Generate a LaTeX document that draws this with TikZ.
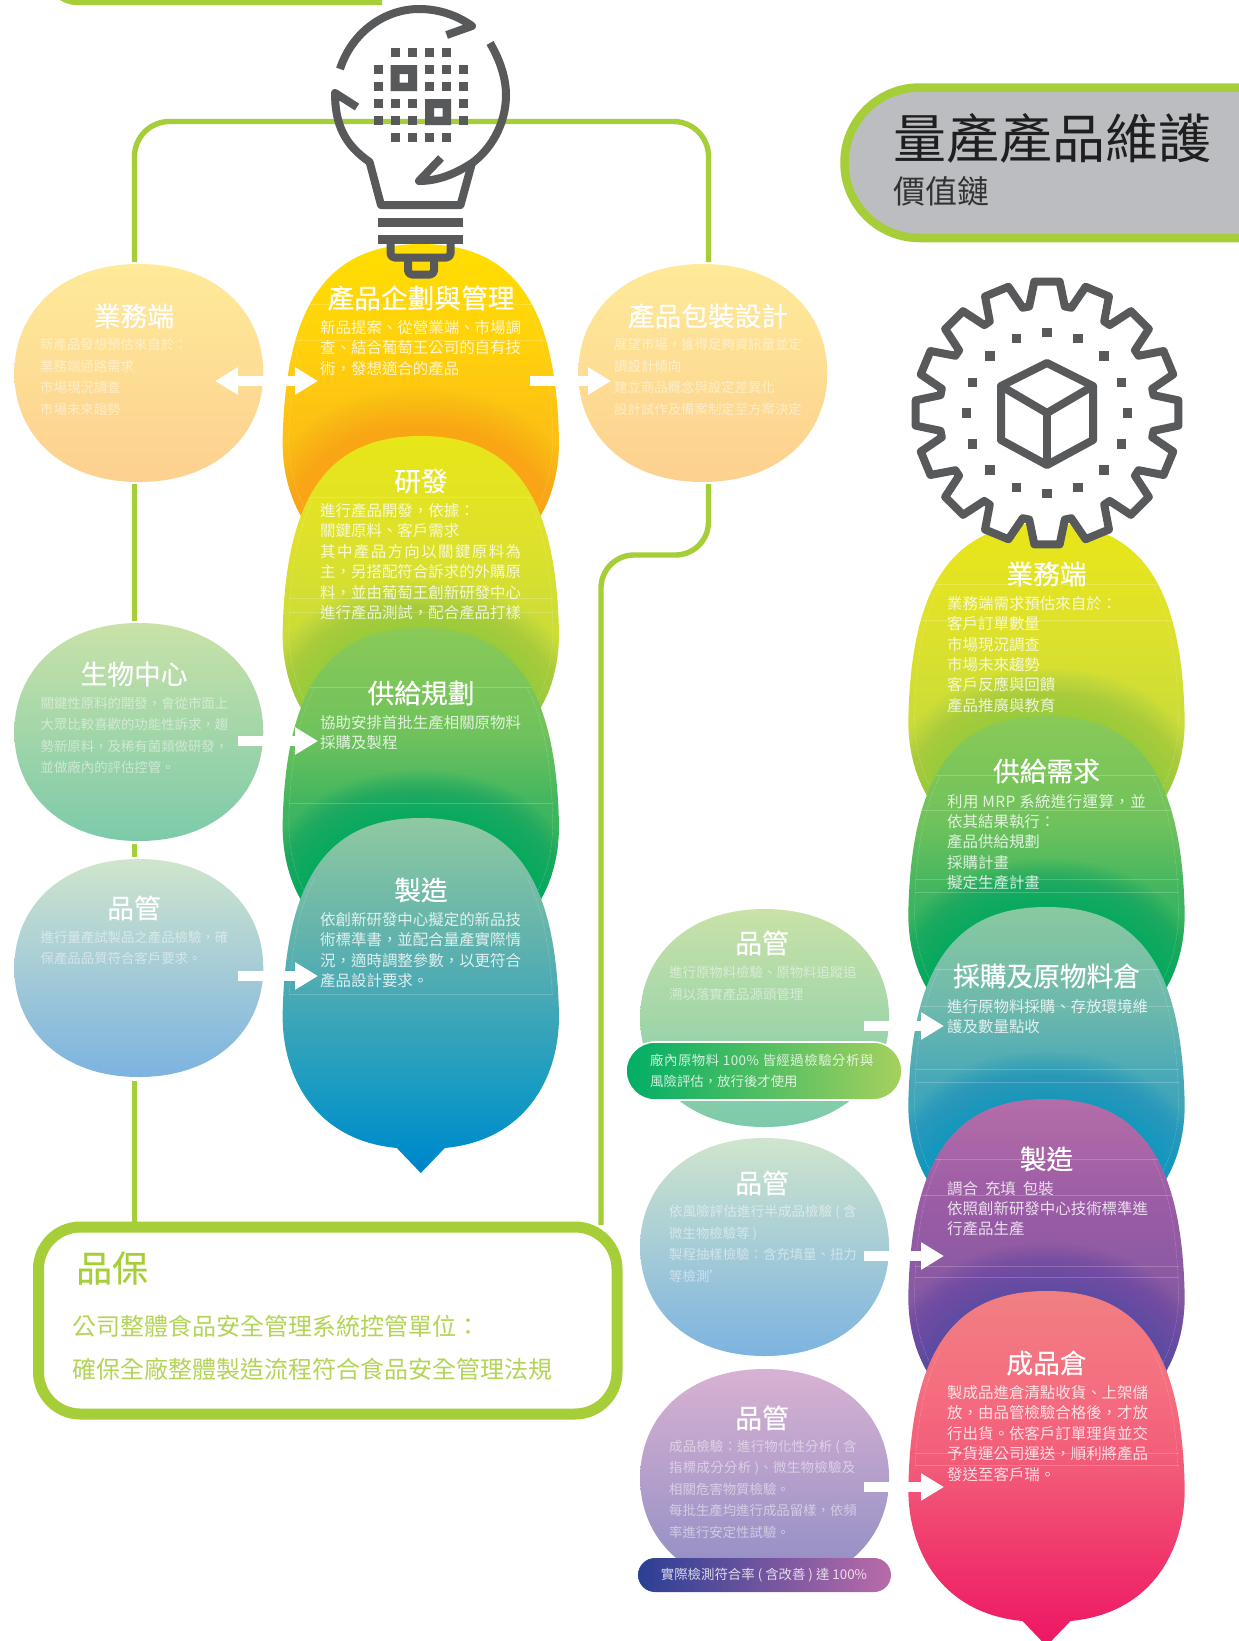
\documentclass[tikz,border=0pt]{standalone}
\usepackage{fontspec}
\usetikzlibrary{arrows.meta}
\setmainfont{Noto Sans CJK TC}
\newfontfamily\headf[FakeBold=0.35]{Noto Sans CJK TC}
\newcommand\lsp[2]{{\addfontfeature{LetterSpace=#1}#2}}
\definecolor{leaf}{HTML}{A6CE39}
\definecolor{ic}{HTML}{58595B}
\definecolor{titlegrey}{HTML}{BBBDC0}
\definecolor{glA}{HTML}{F9A51A}
\definecolor{glB}{HTML}{8ACB5A}
\definecolor{glC}{HTML}{00A960}
\definecolor{glD}{HTML}{1497C8}
\definecolor{glE}{HTML}{5A4BA2}
% vertical shadings: colour(25bp)=bottom of shape, colour(75bp)=top of shape
\pgfdeclareverticalshading{gA}{100bp}{rgb(0bp)=(.984,.71,.09);rgb(25bp)=(.984,.71,.09);rgb(50bp)=(.992,.757,.078);rgb(60bp)=(1,.816,.047);rgb(75bp)=(1,.87,0);rgb(100bp)=(1,.87,0)}
\pgfdeclareverticalshading{gB}{100bp}{rgb(0bp)=(.733,.84,.247);rgb(25bp)=(.733,.84,.247);rgb(50bp)=(.81,.867,.208);rgb(60bp)=(.87,.882,.169);rgb(75bp)=(.91,.902,.094);rgb(100bp)=(.91,.902,.094)}
\pgfdeclareverticalshading{gC}{100bp}{rgb(0bp)=(.11,.70,.353);rgb(25bp)=(.11,.70,.353);rgb(50bp)=(.25,.71,.376);rgb(60bp)=(.435,.76,.36);rgb(75bp)=(.54,.79,.345);rgb(100bp)=(.54,.79,.345)}
\pgfdeclareverticalshading{gD}{100bp}{rgb(0bp)=(0,.50,.784);rgb(25bp)=(0,.50,.784);rgb(28bp)=(0,.55,.796);rgb(37bp)=(.10,.61,.76);rgb(50bp)=(.278,.663,.71);rgb(60bp)=(.404,.71,.67);rgb(75bp)=(.56,.79,.63);rgb(100bp)=(.56,.79,.63)}
\pgfdeclareverticalshading{gE}{100bp}{rgb(0bp)=(.10,.61,.77);rgb(25bp)=(.10,.61,.77);rgb(50bp)=(.27,.655,.725);rgb(60bp)=(.416,.718,.678);rgb(75bp)=(.54,.79,.63);rgb(100bp)=(.54,.79,.63)}
\pgfdeclareverticalshading{gF}{100bp}{rgb(0bp)=(.416,.30,.624);rgb(25bp)=(.416,.30,.624);rgb(50bp)=(.545,.353,.64);rgb(60bp)=(.604,.36,.647);rgb(75bp)=(.71,.427,.659);rgb(100bp)=(.71,.427,.659)}
\pgfdeclareverticalshading{gG}{100bp}{rgb(0bp)=(.93,.082,.40);rgb(25bp)=(.93,.082,.40);rgb(37bp)=(.94,.208,.424);rgb(50bp)=(.949,.353,.47);rgb(62bp)=(.96,.435,.50);rgb(75bp)=(.94,.498,.51);rgb(100bp)=(.94,.498,.51)}
\newcommand\tearpath{(0,0) .. controls (90,0) and (134,56) .. (138,190) .. controls (141,255) and (108,322) .. (24,330) -- (0,355) -- (-24,330) .. controls (-108,322) and (-141,255) .. (-138,190) .. controls (-134,56) and (-90,0) .. (0,0) -- cycle}
\newcommand\blobpath{(0,0) .. controls (78,0) and (124.5,48) .. (124.5,109) .. controls (124.5,170) and (78,218) .. (0,218) .. controls (-78,218) and (-124.5,170) .. (-124.5,109) .. controls (-124.5,48) and (-78,0) .. (0,0) -- cycle}
% #1 x, #2 top, #3 shading, #4 dy of next, #5 glow style, #6 hairlines
\newcommand\tear[6]{%
 \begin{scope}[shift={(#1,#2)}]
  \shade[shading=#3] \tearpath;
  \begin{scope}
   \clip \tearpath;
   \begin{scope}[shift={(0,#4)}]
    \foreach \w in {3,6,...,96} {\draw[line width=\w pt,#5] \tearpath;}
   \end{scope}
   \foreach \h in {#6} {\draw[hair] (-132,\h) -- (132,\h);}
   \clip (-140,60) rectangle (140,355);
   \draw[hair,dash pattern=on 5pt off 1pt,xscale=.955,yscale=.985] \tearpath;
  \end{scope}
 \end{scope}}
\newcommand\lasttear[4]{%
 \begin{scope}[shift={(#1,#2)}]
  \shade[shading=#3] \tearpath;
  \begin{scope}
   \clip \tearpath;
   \foreach \h in {#4} {\draw[hair] (-132,\h) -- (132,\h);}
   \clip (-140,60) rectangle (140,176);
   \draw[hair,dash pattern=on 5pt off 1pt,xscale=.955,yscale=.985] \tearpath;
  \end{scope}
 \end{scope}}
\newcommand\blob[4]{\shade[shift={(#1,#2)},top color=#3,bottom color=#4] \blobpath;}
\tikzset{
 hair/.style={draw=white,opacity=.2,line width=.5pt},
 glowA/.style={draw=glA,opacity=.022},
 glowB/.style={draw=glB,opacity=.03},
 glowC/.style={draw=glC,opacity=.04},
 glowD/.style={draw=glD,opacity=.035},
 glowE/.style={draw=glE,opacity=.03},
 loopline/.style={draw=leaf,line width=5.4pt},
 whitearrow/.style={draw=white,line width=10pt,-{Triangle[length=23pt,width=26pt]}},
 whitedouble/.style={draw=white,line width=10pt,{Triangle[length=23pt,width=26pt]}-{Triangle[length=23pt,width=26pt]}},
 headtxt/.style={white,inner sep=0pt,font=\headf\fontsize{26.7}{26.7}\selectfont},
 bigtxt/.style={white,text opacity=.8,anchor=north west,align=left,inner sep=0pt,yshift=7.7pt,font=\fontsize{15.45}{20.35}\selectfont},
 smalltxt/.style={white,text opacity=.5,anchor=north west,align=left,inner sep=0pt,yshift=6.7pt,font=\fontsize{13.4}{21.4}\selectfont},
 icline/.style={draw=ic,line width=8pt,line join=round},
 gearline/.style={draw=ic,fill=white,line width=8pt,line join=round},
}
\begin{document}
\begin{tikzpicture}[x=1pt,y=-1pt]
\useasboundingbox (0,0) rectangle (1239,1641);
\clip (0,0) rectangle (1239,1641);
\fill[white] (0,0) rectangle (1239,1641);
% anchors
\coordinate (bizTop) at (134.5,262);
\coordinate (bizBot) at (134.5,484);
\coordinate (bioTop) at (134.5,621);
\coordinate (bioBot) at (134.5,844);
\coordinate (qcTop) at (134.5,857);
\coordinate (qcBot) at (134.5,1081);
\coordinate (qaTopL) at (134.5,1225);
\coordinate (qaTopR) at (601,1225);
\coordinate (loopL) at (134.5,121.5);
\coordinate (loopR) at (708.5,121.5);
\coordinate (pkgTop) at (708.5,262);
\coordinate (pkgBot) at (708.5,484);
\coordinate (jogA) at (708.5,555);
\coordinate (jogB) at (601,555);
\coordinate (frameA) at (60,-3);
\coordinate (frameB) at (88,2.5);
\coordinate (frameC) at (382,2.5);
% top frame fragment
\draw[loopline] (frameA) .. controls (70,2.5) .. (frameB) -- (frameC);
% connectors
\draw[loopline,rounded corners=35pt] (bizTop) -- (loopL) -- (loopR) -- (pkgTop);
\draw[loopline] (bizBot) -- (bioTop);
\draw[loopline] (bioBot) -- (qcTop);
\draw[loopline] (qcBot) -- (qaTopL);
\draw[loopline,rounded corners=33pt] (pkgBot) -- (jogA) -- (jogB) -- (qaTopR);
% QA box
\draw[draw=leaf,line width=11pt,rounded corners=42pt,fill=white] (38.5,1227) rectangle (617,1414);
\node[text=leaf,inner sep=0pt,anchor=west,font=\headf\fontsize{36}{36}\selectfont] (qaT) at (76,1268) {品保};
\node[text=leaf!85!white,inner sep=0pt,align=left,font=\fontsize{24}{42.5}\selectfont,anchor=north west,yshift=12pt] (qaB) at (72,1327) {公司整體食品安全管理系統控管單位：\\確保全廠整體製造流程符合食品安全管理法規};
% title
\draw[draw=leaf,line width=8.5pt,fill=titlegrey,rounded corners=75pt] (844.5,87.5) rectangle (1400,238);
\node[text=black!88,inner sep=0pt,anchor=west,font=\fontsize{53}{53}\selectfont] (title) at (893.5,138) {量產產品維護};
\node[text=black!80,inner sep=0pt,anchor=west,font=\fontsize{32}{32}\selectfont] (subtitle) at (893.5,191) {價值鏈};
% left blobs
\definecolor{bA}{HTML}{FEEA99}\definecolor{bB}{HTML}{FDD08F}
\definecolor{cA}{HTML}{C9E2A8}\definecolor{cB}{HTML}{7CCAAA}
\definecolor{dA}{HTML}{CFE5CD}\definecolor{dB}{HTML}{7CB3E0}
\definecolor{eA}{HTML}{D8B2D3}\definecolor{eB}{HTML}{8F8CC4}
\blob{138.8}{264}{bA}{bB}
\blob{138.8}{623}{cA}{cB}
\blob{138.8}{859}{dA}{dB}
\blob{702.8}{264}{bA}{bB}
% middle blobs
\blob{764.6}{909}{cA}{cB}
\blob{764.6}{1138}{dA}{dB}
\blob{764.6}{1369}{eA}{eB}
% left column
\tear{420.8}{244}{gA}{192}{glowA}{60,96}
\tear{420.8}{436}{gB}{192}{glowB}{61,162,176}
\tear{420.8}{628}{gC}{190}{glowC}{59,175}
\lasttear{420.8}{818}{gD}{176}
% right column
\tear{1046.5}{523}{gB}{193}{glowB}{61,97}
\tear{1046.5}{716}{gC}{191}{glowC}{59,94,163,176}
\tear{1046.5}{907}{gE}{192}{glowD}{62,99,162,175}
\tear{1046.5}{1099}{gF}{192}{glowE}{60,96,167,178}
\lasttear{1046.5}{1291}{gG}{162,174}
% pills
\definecolor{pA}{HTML}{00AE66}\definecolor{pB}{HTML}{A6D05E}
\definecolor{pC}{HTML}{2B3F94}\definecolor{pD}{HTML}{B96BA9}
\shade[left color=pA,right color=pB,rounded corners=29pt] (626,1042) rectangle (902,1100);
\draw[white,line width=1.6pt,rounded corners=29pt] (626,1042) rectangle (902,1100);
\shade[left color=pC,right color=pD,rounded corners=17pt] (638,1558) rectangle (891,1592);
% arrows
\coordinate (aAs) at (215,381);\coordinate (aAe) at (318,381);
\coordinate (aBs) at (530,381);\coordinate (aBe) at (611,381);
\coordinate (aCs) at (238,741);\coordinate (aCe) at (318,741);
\coordinate (aDs) at (238,976);\coordinate (aDe) at (318,976);
\coordinate (aEs) at (864,1026);\coordinate (aEe) at (944,1026);
\coordinate (aFs) at (864,1256);\coordinate (aFe) at (944,1256);
\coordinate (aGs) at (864,1487);\coordinate (aGe) at (944,1487);
\draw[whitedouble] (aAs) -- (aAe);
\draw[whitearrow] (aBs) -- (aBe);
\draw[whitearrow] (aCs) -- (aCe);
\draw[whitearrow] (aDs) -- (aDe);
\draw[whitearrow] (aEs) -- (aEe);
\draw[whitearrow] (aFs) -- (aFe);
\draw[whitearrow] (aGs) -- (aGe);
% bulb
\coordinate (bulbA) at (340,69);
\draw[icline] (bulbA) .. controls (352,32) and (385,9) .. (419,9) .. controls (440,9) and (458,16) .. (472,26) -- (446.6,35);
\draw[icline] (490,43) .. controls (500,60) and (506,78) .. (506,95) .. controls (506,125) and (490,150) .. (472,163) .. controls (455,174) and (438,181) .. (419,181) -- (441,158);
\draw[icline] (357,107) -- (335,93) .. controls (335,125) and (345,145) .. (369.6,162) -- (381,205) -- (460.5,205) -- (472,163);
\fill[ic] (377.5,218) rectangle (463,227);
\fill[ic] (377.5,235) rectangle (463,244);
\draw[icline,rounded corners=4pt] (390.5,244) -- (390.5,257.5) -- (450.5,257.5) -- (450.5,244);
\draw[icline,rounded corners=4pt] (408,260) -- (408,274.5) -- (434,274.5) -- (434,260);
\foreach \x/\y in {390.5/48,408/48,425/48,442/48,373.5/65,425/65,442/65,459/65,373.5/82,425/82,442/82,459/82,373.5/99,390.5/99,408/99,459/99,373.5/116,390.5/116,408/116,459/116,390.5/133,408/133,425/133,442/133} {\fill[ic] (\x,\y) rectangle ++(9,9);}
\fill[ic,even odd rule] (390.5,65) rectangle (417,91) (399.5,74) rectangle (408,82.5);
\fill[ic,even odd rule] (425,99) rectangle (451,125) (434,108) rectangle (442.5,116.5);
% gear
\coordinate (gearC) at (1047,413);
\begin{scope}[shift={(gearC)}]
 \draw[gearline] (-9.5:108) \foreach \a in {0,22.5,...,337.5} { -- (\a-9.5:108) -- (\a-5.5:132) -- (\a+5.5:132) -- (\a+9.5:108)} -- cycle;
 \foreach \a in {0,22.5,...,337.5} {\fill[ic] (\a:80.5) ++(-4.7,-4.7) rectangle ++(9.4,9.4);}
 \draw[icline] (0,-50) -- (46,-27) -- (46,27) -- (0,52) -- (-46,27) -- (-46,-27) -- cycle;
 \draw[icline] (-46,-27) -- (0,0) -- (46,-27);
 \draw[icline] (0,0) -- (0,52);
\end{scope}
% headings
\node[headtxt] (h1) at (134,316) {業務端};
\node[headtxt] (h2) at (134,674) {生物中心};
\node[headtxt] (h3) at (134,908) {品管};
\node[headtxt] (h4) at (421,298) {產品企劃與管理};
\node[headtxt] (h5) at (421,481) {研發};
\node[headtxt] (h6) at (421,693) {供給規劃};
\node[headtxt] (h7) at (421,890) {製造};
\node[headtxt] (h8) at (708,316) {產品包裝設計};
\node[headtxt] (h9) at (1046.5,574) {業務端};
\node[headtxt] (h10) at (1046.5,771) {供給需求};
\node[headtxt] (h11) at (1046.5,976) {採購及原物料倉};
\node[headtxt] (h12) at (1046.5,1159) {製造};
\node[headtxt] (h13) at (1046.5,1363) {成品倉};
\node[headtxt] (h14) at (762,943) {品管};
\node[headtxt] (h15) at (762,1183) {品管};
\node[headtxt] (h16) at (762,1418) {品管};
% left bodies
\node[smalltxt] (t1) at (40,345) {新產品發想預估來自於：\\業務端通路需求\\市場現況調查\\市場未來趨勢};
\node[smalltxt] (t2) at (40.5,703.5) {關鍵性原料的開發，會從市面上\\大眾比較喜歡的功能性訴求，趨\\勢新原料，及稀有菌類做研發，\\並做廠內的評估控管。};
\node[smalltxt] (t3) at (40.5,937.5) {進行量產試製品之產品檢驗，確\\保產品品質符合客戶要求。};
\node[smalltxt] (t4) at (614,345) {展望市場，獲得足夠資訊量並定\\調設計傾向\\建立商品概念與設定差異化\\設計試作及備案制定至方案決定};
\node[bigtxt] (t5) at (320,328) {新品提案、從營業端、市場調\\查、結合葡萄王公司的自有技\\術，發想適合的產品};
\node[bigtxt] (t6) at (320,511) {進行產品開發，依據：\\關鍵原料、客戶需求\\\lsp{9.1}{其中產品方向以關鍵原料為}\\主，另搭配符合訴求的外購原\\料，並由葡萄王創新研發中心\\進行產品測試，配合產品打樣};
\node[bigtxt] (t7) at (320,722.5) {協助安排首批生產相關原物料\\採購及製程};
\node[bigtxt] (t8) at (320,920) {依創新研發中心擬定的新品技\\術標準書，並配合量產實際情\\況，適時調整參數，以更符合\\產品設計要求。};
% right bodies
\node[bigtxt] (t9) at (947,604) {業務端需求預估來自於：\\客戶訂單數量\\市場現況調查\\市場未來趨勢\\客戶反應與回饋\\產品推廣與教育};
\node[bigtxt] (t10) at (947,801.5) {\lsp{2.7}{利用 MRP 系統進行運算，並}\\依其結果執行：\\產品供給規劃\\採購計畫\\擬定生產計畫};
\node[bigtxt] (t11) at (947,1006.5) {進行原物料採購、存放環境維\\護及數量點收};
\node[bigtxt] (t12) at (947,1188.5) {調合\ \ 充填\ \ 包裝\\依照創新研發中心技術標準進\\行產品生產};
\node[bigtxt] (t13) at (947,1393) {製成品進倉清點收貨、上架儲\\放，由品管檢驗合格後，才放\\行出貨。依客戶訂單理貨並交\\予貨運公司運送，順利將產品\\發送至客戶瑞。};
% middle bodies
\node[smalltxt] (t14) at (669,973) {進行原物料檢驗、原物料追蹤追\\溯以落實產品源頭管理};
\node[smalltxt,text opacity=.8] (t15) at (650,1060) {\lsp{3.9}{廠內原物料 100\% 皆經過檢驗分析與}\\風險評估，放行後才使用};
\node[smalltxt] (t16) at (669,1212) {\lsp{1.5}{依風險評估進行半成品檢驗 ( 含}\\微生物檢驗等 )\\製程抽樣檢驗：含充填量、扭力\\等檢測’};
\node[smalltxt] (t17) at (669,1446.5) {\lsp{1.5}{成品檢驗：進行物化性分析 ( 含}\\\lsp{2.5}{指標成分分析 )、微生物檢驗及}\\相關危害物質檢驗。\\每批生產均進行成品留樣，依頻\\率進行安定性試驗。};
\node[white,text opacity=.8,inner sep=0pt,font=\fontsize{13.4}{16}\selectfont] (t18) at (764,1575) {實際檢測符合率 ( 含改善 ) 達 100\%};
\end{tikzpicture}
\end{document}
